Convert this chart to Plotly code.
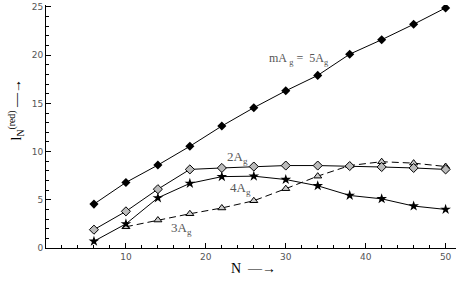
import plotly.graph_objects as go

N = [6, 10, 14, 18, 22, 26, 30, 34, 38, 42, 46, 50]
N3 = [10, 14, 18, 22, 26, 30, 34, 38, 42, 46, 50]
s5A = [4.55, 6.8, 8.6, 10.55, 12.65, 14.55, 16.3, 17.9, 20.1, 21.6, 23.2, 24.9]
s2A = [1.9, 3.8, 6.1, 8.15, 8.3, 8.45, 8.55, 8.55, 8.5, 8.4, 8.3, 8.15]
s4A = [0.7, 2.5, 5.2, 6.7, 7.4, 7.45, 7.1, 6.45, 5.45, 5.1, 4.35, 4.0]
s3A = [2.2, 2.9, 3.55, 4.15, 4.9, 6.15, 7.45, 8.55, 8.95, 8.8, 8.45]
xticks = [10, 20, 30, 40, 50]
yticks = [0, 5, 10, 15, 20, 25]

fig = go.Figure()
fig.add_trace(go.Scatter(x=N, y=s5A, mode="lines+markers",
                         line=dict(color="black", width=1),
                         marker=dict(symbol="diamond", size=7, color="black")))
fig.add_trace(go.Scatter(x=N3, y=s3A, mode="lines+markers",
                         line=dict(color="black", width=1, dash="7px,4px"),
                         marker=dict(symbol="triangle-up", size=7, color="#cccccc",
                                     line=dict(color="black", width=1))))
fig.add_trace(go.Scatter(x=N, y=s2A, mode="lines+markers",
                         line=dict(color="black", width=1),
                         marker=dict(symbol="diamond", size=7, color="#bbbbbb",
                                     line=dict(color="black", width=1))))
fig.add_trace(go.Scatter(x=N, y=s4A, mode="lines+markers",
                         line=dict(color="black", width=1),
                         marker=dict(symbol="star", size=8, color="black")))

anns = [
    dict(x=31.6, y=19.6, text="mA <sub>g</sub> =  5A<sub>g</sub>", size=12),
    dict(x=24.0, y=9.4, text="2A<sub>g</sub>", size=13),
    dict(x=24.3, y=6.2, text="4A<sub>g</sub>", size=13),
    dict(x=17.0, y=2.0, text="3A<sub>g</sub>", size=13),
]
for a in anns:
    fig.add_annotation(x=a["x"], y=a["y"], text=a["text"], showarrow=False,
                       font=dict(family="Liberation Serif", size=a["size"], color="#555555"),
                       xref="x", yref="y")

fig.add_annotation(xref="paper", yref="paper", x=-0.1, y=0.57,
                   text="l<sub>N</sub><sup>(red)</sup> \u2014\u2192", textangle=-90,
                   showarrow=False,
                   font=dict(family="Liberation Serif", size=14, color="black"))
fig.add_annotation(xref="paper", yref="paper", x=0.505, y=-0.125,
                   text="N  \u2014\u2192", showarrow=False,
                   font=dict(family="Liberation Serif", size=14, color="black"))

tickfont = dict(family="DejaVu Sans", size=9, color="#555555")
fig.update_layout(
    width=458, height=302,
    margin=dict(l=46, r=2, t=5, b=54),
    plot_bgcolor="white", paper_bgcolor="white",
    showlegend=False,
    xaxis=dict(range=[0, 51.3], tickvals=xticks, ticks="inside", ticklen=5,
               tickcolor="black", showline=True, linecolor="black", linewidth=1,
               showgrid=False, zeroline=False, tickfont=tickfont, automargin=False,
               minor=dict(dtick=2, tick0=0, ticks="inside", ticklen=3, tickcolor="black", showgrid=False)),
    yaxis=dict(range=[0, 25.2], tickvals=yticks, ticks="inside", ticklen=5,
               tickcolor="black", showline=True, linecolor="black", linewidth=1,
               showgrid=False, zeroline=False, tickfont=tickfont, automargin=False,
               minor=dict(dtick=1, tick0=0, ticks="inside", ticklen=3, tickcolor="black", showgrid=False)),
)
fig.write_html("out.html", config={"displayModeBar": False},
               post_script="document.body.style.margin='0';document.body.style.overflow='hidden';")
